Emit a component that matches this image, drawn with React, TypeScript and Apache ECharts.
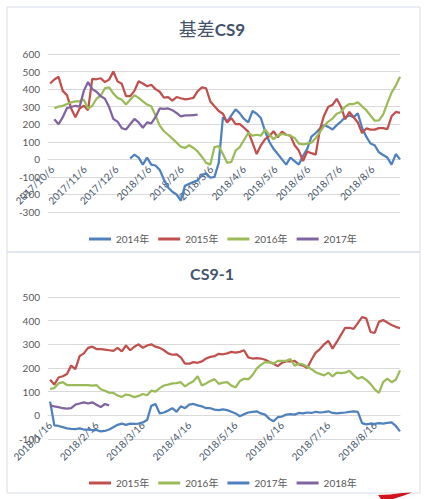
import React, { useEffect, useRef } from "react";
import * as echarts from "echarts";

// ---------- Top chart: 基差CS9 (x = days since 2017/10/6) ----------
const topTickDays = [0, 31, 61, 92, 123, 151, 182, 212, 243, 273, 304];
const topTickLabels = [
  "2017/10/6", "2017/11/6", "2017/12/6", "2018/1/6", "2018/2/6", "2018/3/6",
  "2018/4/6", "2018/5/6", "2018/6/6", "2018/7/6", "2018/8/6",
];
const topFirstDay = -2;
const topDayStep = 4;

const top2014Start = 19;
const top2014 = [
  5, 27, 10, -30, 10, -30, -35, -60, -115, -160,
  -185, -200, -235, -150, -140, -130, -120, -90, -80, -105,
  -100, -20, 240, 215, 250, 285, 262, 230, 210, 275,
  260, 235, 160, 100, 60, 30, 0, -30, 10, -10,
  -30, 20, 60, 130, 150, 175, 195, 185, 170, 195,
  215, 240, 250, 240, 262, 180, 129, 90, 80, 40,
  25, 10, -30, 30, 0,
];
const top2015Start = 0;
const top2015 = [
  432, 455, 470, 390, 366, 290, 240, 290, 305, 280,
  458, 456, 462, 440, 454, 500, 444, 430, 360, 360,
  390, 445, 432, 416, 425, 400, 385, 352, 355, 335,
  355, 348, 342, 345, 350, 388, 410, 405, 330, 302,
  275, 260, 210, 235, 200, 200, 180, 158, 95, 30,
  80, 115, 132, 160, 125, 158, 140, 135, 80, 50,
  -10, 45, 35, 27, 170, 250, 300, 310, 345, 300,
  228, 270, 240, 210, 150, 176, 169, 169, 178, 178,
  172, 245, 270, 265,
];
const top2016Start = 1;
const top2016 = [
  292, 300, 305, 315, 325, 330, 330, 340, 290,
  305, 345, 362, 405, 410, 375, 350, 340, 312, 340,
  365, 350, 330, 312, 302, 250, 192, 160, 140, 118,
  95, 72, 65, 80, 65, 45, 15, -20, -30, 70,
  75, 30, -20, -15, 50, 70, 110, 150, 135, 140,
  135, 170, 140, 115, 135, 145, 140, 135, 122, 90,
  85, 90, 95, 122, 155, 190, 215, 232, 260, 270,
  300, 315, 315, 325, 302, 280, 250, 220, 222, 255,
  320, 380, 420, 470,
];
const top2017Start = 1;
const top2017 = [
  228, 200, 240, 292, 298, 305, 300, 390, 440,
  400, 385, 360, 345, 298, 230, 215, 178, 170, 200,
  230, 210, 180, 210, 205, 240, 290, 288, 290, 280,
  264, 245, 250, 250, 252, 254,
];

// ---------- Bottom chart: CS9-1 (x = sample index, label every 11) ----------
const botTickIdx = [0, 11, 22, 33, 44, 55, 66, 77];
const botTickLabels = [
  "2018/1/16", "2018/2/16", "2018/3/16", "2018/4/16",
  "2018/5/16", "2018/6/16", "2018/7/16", "2018/8/16",
];
const bot2015 = [
  150, 130, 160, 165, 175, 210, 195, 250, 262, 285,
  290, 280, 280, 278, 275, 272, 285, 270, 295, 275,
  290, 300, 285, 295, 300, 290, 285, 275, 262, 256,
  258, 245, 218, 218, 225, 222, 228, 240, 247, 250,
  260, 258, 262, 268, 265, 268, 275, 245, 240, 242,
  240, 235, 226, 218, 208, 222, 228, 228, 230, 215,
  210, 200, 235, 265, 280, 300, 315, 282, 310, 340,
  370, 370, 365, 390, 415, 410, 352, 348, 395, 403,
  392, 382, 374, 368,
];
const bot2016 = [
  112, 115, 135, 140, 128, 128, 128, 128, 128, 128,
  126, 128, 110, 104, 96, 95, 84, 78, 88, 84,
  77, 82, 90, 85, 104, 100, 115, 126, 130, 135,
  136, 140, 122, 135, 144, 165, 126, 135, 145, 153,
  133, 138, 140, 126, 118, 145, 155, 152, 170, 197,
  213, 225, 224, 218, 230, 230, 230, 238, 210, 218,
  215, 205, 195, 182, 175, 169, 180, 165, 180, 178,
  180, 188, 170, 155, 162, 150, 133, 110, 95, 140,
  155, 140, 150, 190,
];
const bot2017 = [
  58, -42, -45, -50, -55, -57, -58, -55, -60, -60,
  -62, -62, -68, -66, -60, -50, -40, -35, -40, -35,
  -36, -35, -30, -20, 40, 48, 8, 12, 20, 30,
  15, 38, 30, 45, 48, 42, 38, 30, 30, 24,
  22, 25, 22, 15, 8, -4, 5, 12, 15, 17,
  8, 3, -15, -25, -8, -5, 3, 5, 3, 10,
  8, 12, 10, 15, 12, 14, 17, 10, 8, 10,
  12, 15, 17, 15, -33, -38, -35, -36, -33, -35,
  -32, -30, -45, -68,
];
const bot2018 = [42, 38, 35, 30, 28, 30, 45, 50, 55, 50, 55, 45, 35, 48, 42];

const topYMin = -300, topYMax = 600;
const botYMin = -100, botYMax = 500;

const C_BLUE = "#4F81BD";
const C_RED = "#C0504D";
const C_GREEN = "#9BBB59";
const C_PURPLE = "#8064A2";
const FONT = 'Lato, "Noto Sans CJK SC", sans-serif';

function topPairs(start: number, vals: number[]) {
  return vals.map((v, i) => [topFirstDay + (start + i) * topDayStep, v]);
}
function botPairs(vals: number[]) {
  return vals.map((v, i) => [i, v]);
}

export default function App() {
  const ref = useRef<HTMLDivElement>(null);
  useEffect(() => {
    if (!ref.current) return;
    const chart = echarts.init(ref.current, null, { renderer: "svg" });
    const legendFmt = (n: string) => n.slice(1) + "年";
    const lineSeries = (name: string, color: string, xi: number, data: any[]) => ({
      name,
      type: "line",
      xAxisIndex: xi,
      yAxisIndex: xi,
      data,
      showSymbol: false,
      symbol: "none",
      color,
      lineStyle: { width: 2.25, color },
      emphasis: { disabled: true },
    });
    const yAxisBase = {
      type: "value",
      axisLine: { show: false, onZero: false },
      axisTick: { show: false },
      splitLine: { lineStyle: { color: "#d9d9d9", width: 1 } },
      axisLabel: { fontSize: 10, color: "#595959", margin: 8, fontFamily: FONT },
    };
    const xLabel = (vals: number[], labels: string[]) => ({
      customValues: vals,
      formatter: (v: number) => {
        const i = vals.indexOf(v);
        return i >= 0 ? labels[i] : "";
      },
      rotate: 45,
      fontSize: 10,
      color: "#44546A",
      margin: 8,
      fontFamily: FONT,
    });
    const topGrid = { left: 48, right: 24, top: 54, height: 158 };
    const botGrid = { left: 48, right: 24, top: 297, height: 142 };
    // move the date axis up to the zero line of the value axis
    const topZeroOffset = -topGrid.height * (0 - topYMin) / (topYMax - topYMin);
    const botZeroOffset = -botGrid.height * (0 - botYMin) / (botYMax - botYMin);
    chart.setOption({
      animation: false,
      backgroundColor: "#ffffff",
      title: [
        {
          text: "{a|基差}{b|CS9}",
          left: "center",
          top: 20,
          padding: 0,
          textStyle: {
            rich: {
              a: { fontSize: 18, color: "#44546A", fontFamily: FONT, fontWeight: "normal" },
              b: { fontSize: 17, color: "#44546A", fontFamily: FONT, fontWeight: "bold" },
            },
          },
        },
        {
          text: "CS9-1",
          left: "center",
          top: 265,
          padding: 0,
          textStyle: { fontSize: 16, color: "#44546A", fontFamily: FONT, fontWeight: "bold" },
        },
      ],
      legend: [
        {
          left: 84,
          top: 229,
          icon: "rect",
          itemWidth: 22,
          itemHeight: 3,
          itemGap: 9,
          data: ["a2014", "a2015", "a2016", "a2017"],
          formatter: legendFmt,
          textStyle: { fontSize: 10, color: "#595959", fontFamily: FONT },
        },
        {
          left: 84,
          top: 473,
          icon: "rect",
          itemWidth: 22,
          itemHeight: 3,
          itemGap: 9,
          data: ["b2015", "b2016", "b2017", "b2018"],
          formatter: legendFmt,
          textStyle: { fontSize: 10, color: "#595959", fontFamily: FONT },
        },
      ],
      grid: [topGrid, botGrid],
      xAxis: [
        {
          type: "value",
          gridIndex: 0,
          min: -4,
          max: 330,
          position: "bottom",
          offset: topZeroOffset,
          splitLine: { show: false },
          axisTick: { show: false },
          axisLine: { show: true, onZero: false, lineStyle: { color: "#d9d9d9" } },
          axisLabel: xLabel(topTickDays, topTickLabels),
        },
        {
          type: "value",
          gridIndex: 1,
          min: -0.5,
          max: 83,
          position: "bottom",
          offset: botZeroOffset,
          splitLine: { show: false },
          axisTick: { show: false },
          axisLine: { show: true, onZero: false, lineStyle: { color: "#d9d9d9" } },
          axisLabel: xLabel(botTickIdx, botTickLabels),
        },
      ],
      yAxis: [
        { ...yAxisBase, gridIndex: 0, min: topYMin, max: topYMax, interval: 100 },
        { ...yAxisBase, gridIndex: 1, min: botYMin, max: botYMax, interval: 100 },
      ],
      graphic: [
        {
          type: "rect",
          shape: { x: 7, y: 7, width: 413, height: 245 },
          style: { fill: "none", stroke: "#d6dde6", lineWidth: 1 },
          silent: true,
        },
        {
          type: "rect",
          shape: { x: 7, y: 252, width: 413, height: 241 },
          style: { fill: "none", stroke: "#d6dde6", lineWidth: 1 },
          silent: true,
        },
        {
          type: "polygon",
          shape: {
            points: [[378, 495], [390, 494.5], [402, 493], [412, 492.5], [404, 495.5], [393, 499], [381, 499]],
          },
          style: { fill: "#d3141c" },
          silent: true,
        },
      ],
      series: [
        lineSeries("a2014", C_BLUE, 0, topPairs(top2014Start, top2014)),
        lineSeries("a2015", C_RED, 0, topPairs(top2015Start, top2015)),
        lineSeries("a2016", C_GREEN, 0, topPairs(top2016Start, top2016)),
        lineSeries("a2017", C_PURPLE, 0, topPairs(top2017Start, top2017)),
        lineSeries("b2015", C_RED, 1, botPairs(bot2015)),
        lineSeries("b2016", C_GREEN, 1, botPairs(bot2016)),
        lineSeries("b2017", C_BLUE, 1, botPairs(bot2017)),
        lineSeries("b2018", C_PURPLE, 1, botPairs(bot2018)),
      ],
    });
    return () => chart.dispose();
  }, []);
  return (
    <div
      ref={ref}
      style={{ position: "absolute", left: 0, top: 0, width: 424, height: 499, background: "#fff" }}
    />
  );
}
